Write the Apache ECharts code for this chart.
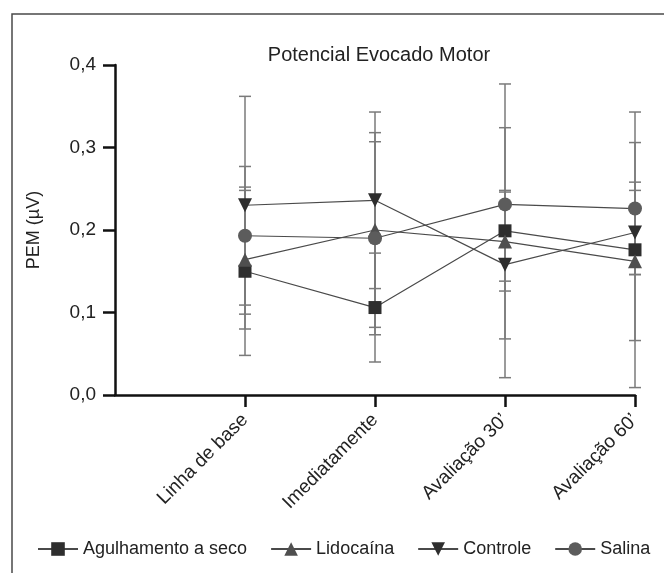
<!DOCTYPE html>
<html>
<head>
<meta charset="utf-8">
<script src="https://cdn.jsdelivr.net/npm/echarts@6/dist/echarts.min.js"></script>
<style>
  html, body { margin: 0; padding: 0; background: #fff; }
  #chart { width: 664px; height: 573px; }
</style>
</head>
<body>
<div id="chart"></div>
<script>
// first slot is blank so the first time point sits one step right of the y axis
const categories = ['', 'Linha de base', 'Imediatamente', 'Avaliação 30’', 'Avaliação 60’']
const timePoints = categories.slice(1)
const yTicks = [0, 0.1, 0.2, 0.3, 0.4]

const agulhamentoMean = [0.150, 0.106, 0.199, 0.176]
const agulhamentoSd = [0.102, 0.066, 0.178, 0.167]
const lidocainaMean = [0.164, 0.200, 0.186, 0.162]
const lidocainaSd = [0.084, 0.118, 0.060, 0.096]
const controleMean = [0.230, 0.236, 0.158, 0.197]
const controleSd = [0.132, 0.107, 0.090, 0.051]
const salinaMean = [0.193, 0.190, 0.231, 0.226]
const salinaSd = [0.084, 0.117, 0.093, 0.080]

const font = "'Liberation Sans', Arial, Helvetica, sans-serif"

const groups = [
  { name: 'Agulhamento a seco', mean: agulhamentoMean, sd: agulhamentoSd, symbol: 'rect', size: 13, rotate: 0, color: '#2e2e2e' },
  { name: 'Lidocaína', mean: lidocainaMean, sd: lidocainaSd, symbol: 'triangle', size: 14, rotate: 0, color: '#4f4f4f' },
  { name: 'Controle', mean: controleMean, sd: controleSd, symbol: 'triangle', size: 14, rotate: 180, color: '#2e2e2e' },
  { name: 'Salina', mean: salinaMean, sd: salinaSd, symbol: 'circle', size: 14, rotate: 0, color: '#5c5c5c' }
]

function errorBarItem(params, api) {
  const lo = api.coord([api.value(0), api.value(1)])
  const hi = api.coord([api.value(0), api.value(2)])
  const half = 6
  const style = { stroke: '#7a7a7a', lineWidth: 1.5 }
  return {
    type: 'group',
    children: [
      { type: 'line', shape: { x1: lo[0], y1: lo[1], x2: hi[0], y2: hi[1] }, style },
      { type: 'line', shape: { x1: lo[0] - half, y1: lo[1], x2: lo[0] + half, y2: lo[1] }, style },
      { type: 'line', shape: { x1: hi[0] - half, y1: hi[1], x2: hi[0] + half, y2: hi[1] }, style }
    ]
  }
}

const series = []
groups.forEach(g => {
  series.push({
    type: 'custom',
    name: g.name + ' dp',
    renderItem: errorBarItem,
    z: 1,
    silent: true,
    encode: { x: 0, y: [1, 2] },
    data: timePoints.map((c, i) => [c, g.mean[i] - g.sd[i], g.mean[i] + g.sd[i]])
  })
})
groups.forEach(g => {
  series.push({
    type: 'line',
    name: g.name,
    z: 3,
    symbol: g.symbol,
    symbolSize: g.size,
    symbolRotate: g.rotate,
    itemStyle: { color: g.color, opacity: 1 },
    lineStyle: { color: '#4a4a4a', width: 1.2 },
    data: timePoints.map((c, i) => [c, g.mean[i]])
  })
})

const option = {
  backgroundColor: '#fff',
  animation: false,
  title: {
    text: 'Potencial Evocado Motor',
    left: 374,
    textAlign: 'center',
    top: 40,
    textStyle: { fontFamily: font, fontSize: 20, fontWeight: 'normal', color: '#222' }
  },
  graphic: [
    {
      type: 'rect',
      shape: { x: 12, y: 14, width: 700, height: 620 },
      style: { fill: 'none', stroke: '#4a4a4a', lineWidth: 1.5 },
      silent: true
    }
  ],
  legend: {
    data: groups.map(g => g.name),
    left: 32,
    top: 535,
    itemWidth: 40,
    itemHeight: 17,
    itemGap: 23,
    textStyle: { fontFamily: font, fontSize: 18, color: '#222' }
  },
  grid: { left: 115, right: 29, top: 65, bottom: 178, containLabel: false },
  xAxis: {
    type: 'category',
    data: categories,
    boundaryGap: false,
    axisLine: { lineStyle: { color: '#111', width: 2.5 } },
    axisTick: {
      length: 12,
      alignWithLabel: true,
      interval: (index) => index > 0,
      lineStyle: { color: '#111', width: 2.5 }
    },
    axisLabel: {
      rotate: 45,
      margin: 22,
      interval: 0,
      fontFamily: font,
      fontSize: 19,
      color: '#222'
    },
    splitLine: { show: false }
  },
  yAxis: {
    type: 'value',
    min: 0,
    max: 0.4,
    interval: 0.1,
    name: 'PEM (µV)',
    nameLocation: 'middle',
    nameGap: 72,
    nameTextStyle: { fontFamily: font, fontSize: 18, color: '#222' },
    axisLine: { show: true, lineStyle: { color: '#111', width: 2.5 } },
    axisTick: { show: true, length: 12, lineStyle: { color: '#111', width: 2.5 } },
    axisLabel: {
      margin: 19,
      fontFamily: font,
      fontSize: 19,
      color: '#222',
      formatter: v => yTicks.includes(Math.round(v * 10) / 10) ? v.toFixed(1).replace('.', ',') : ''
    },
    splitLine: { show: false }
  },
  series: series
}

const chart = echarts.init(document.getElementById('chart'))
chart.setOption(option)
</script>
</body>
</html>
